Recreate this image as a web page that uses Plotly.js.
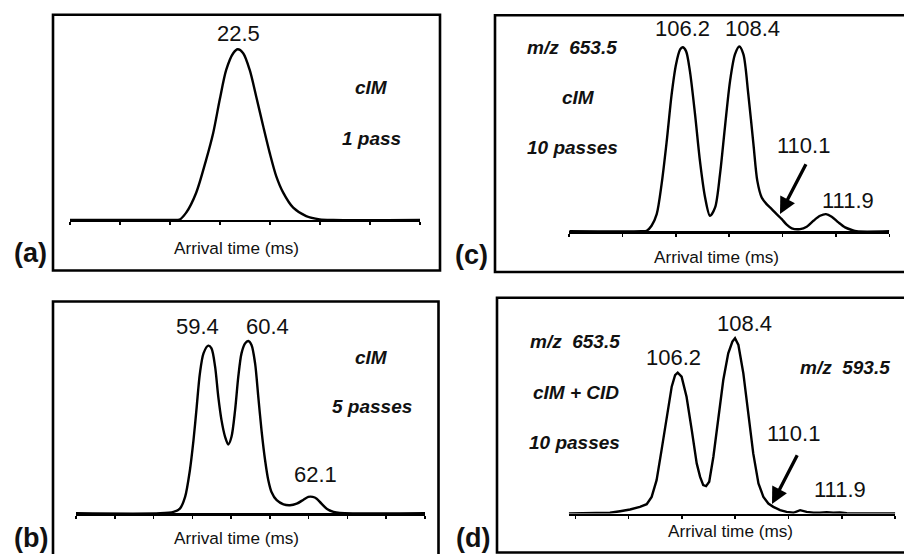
<!DOCTYPE html>
<html><head><meta charset="utf-8">
<script src="https://cdn.plot.ly/plotly-3.0.1.min.js"></script>
<style>html,body{margin:0;padding:0;background:#fff}#chart{width:904px;height:554px}</style>
</head><body><div id="chart"></div>
<script>
// ---- Data (arrival time in ms, relative intensity %) ----
const timeA = [19.146, 20.54, 21.14, 21.34, 21.47, 21.67, 21.87, 22.01, 22.14, 22.27, 22.41, 22.5, 22.61, 22.74, 22.87, 23.01, 23.14, 23.27, 23.41, 23.61, 23.87, 24.14, 24.41, 26.146];
const intensityA = [0, 0, 0, 0.3, 4.3, 16, 35.4, 51, 70.4, 87.9, 97.7, 100, 97.7, 87.9, 72.4, 54.9, 39.3, 25.7, 16, 7.2, 2.3, 0.4, 0, 0];

const timeB = [56.09, 58.2, 58.53, 58.69, 58.82, 58.94, 59.03, 59.11, 59.19, 59.28, 59.40, 59.48, 59.57, 59.65, 59.73, 59.82, 59.90, 59.98, 60.07, 60.15, 60.23, 60.32, 60.40, 60.48, 60.57, 60.65, 60.73, 60.82, 60.90, 60.98, 61.11, 61.28, 61.44, 61.61, 61.78, 61.90, 62.01, 62.11, 62.23, 62.36, 62.53, 62.69, 64.82];
const intensityB = [0, 0, 0.8, 2.7, 9.5, 25.0, 42.4, 61.8, 81.2, 92.8, 97.3, 95.7, 85.1, 67.6, 54.1, 44.4, 39.9, 44.4, 59.9, 79.3, 92.8, 98.6, 100, 97.7, 87.0, 67.6, 48.3, 30.8, 19.2, 12.4, 7.6, 5.2, 4.7, 5.6, 7.9, 9.5, 9.5, 8.5, 5.6, 2.7, 0.8, 0.2, 0];

const timeC = [101.79, 104.6, 104.80, 104.99, 105.19, 105.38, 105.58, 105.77, 105.94, 106.10, 106.20, 106.33, 106.48, 106.68, 106.87, 107.07, 107.26, 107.46, 107.65, 107.84, 108.04, 108.23, 108.40, 108.56, 108.75, 108.95, 109.10, 109.27, 109.46, 109.66, 109.85, 110.05, 110.24, 110.44, 110.76, 111.02, 111.28, 111.54, 111.77, 111.99, 112.25, 112.51, 112.77, 112.96, 114.23];
const intensityC = [0, 0, 0.3, 3.0, 9.3, 25.5, 48.9, 74.1, 90.3, 98.4, 99.6, 97.5, 86.7, 63.3, 38.1, 18.3, 8.4, 12.9, 30.9, 56.1, 81.3, 95.7, 100, 95.7, 74.1, 47.1, 27.3, 18.3, 14.7, 12.0, 9.3, 6.6, 3.6, 1.6, 1.2, 2.5, 5.7, 8.4, 9.3, 7.9, 4.8, 2.1, 0.7, 0, 0];

const timeD = [102.02, 103.22, 103.60, 103.99, 104.37, 104.75, 105.01, 105.20, 105.39, 105.58, 105.78, 105.97, 106.10, 106.20, 106.35, 106.54, 106.74, 106.93, 107.06, 107.18, 107.29, 107.41, 107.57, 107.76, 107.95, 108.14, 108.30, 108.40, 108.53, 108.72, 108.91, 109.10, 109.30, 109.49, 109.68, 109.87, 110.13, 110.38, 110.64, 110.90, 111.15, 111.41, 111.66, 111.92, 112.17, 112.43, 112.69, 113.07, 114.55];
const intensityD = [0, 0, 0.4, 1.3, 2.3, 3.8, 5.3, 9.5, 19.0, 36.2, 55.2, 72.4, 79.0, 80.4, 78.1, 66.6, 47.6, 28.6, 20.9, 16.2, 15.6, 18.1, 32.4, 55.2, 76.2, 91.4, 98.1, 100, 96.2, 80.0, 57.1, 34.3, 17.1, 9.5, 5.7, 3.8, 1.9, 0.9, 0.4, 1.9, 0.9, 0.4, 0.4, 0.7, 0.4, 0.6, 0.2, 0, 0];

// Text labels
const panelLetters = ['(a)', '(b)', '(c)', '(d)'];
const peakLabelsA = ['22.5'];
const peakLabelsB = ['59.4', '60.4', '62.1'];
const peakLabelsC = ['106.2', '108.4', '110.1', '111.9'];
const peakLabelsD = ['106.2', '108.4', '110.1', '111.9'];
const conditionA = ['cIM', '1 pass'];
const conditionB = ['cIM', '5 passes'];
const conditionC = ['m/z\u00a0\u00a0653.5', 'cIM', '10 passes'];
const conditionD = ['m/z\u00a0\u00a0653.5', 'cIM + CID', '10 passes', 'm/z\u00a0\u00a0593.5'];
const axisTitle = 'Arrival time (ms)';

// ---- Layout geometry (pixels) ----
const W = 904, H = 554;
const px = v => v / W;
const py = v => 1 - v / H;
const FONT = '"Liberation Sans", Arial, Helvetica, sans-serif';
const INK = '#111';

const panels = [
  {x: timeA, y: intensityA, ax: [70, 420], ay: 220, pk: 49.3, top: 20, range: [19.146, 26.146], dtick: 1, shape: 'spline'},
  {x: timeB, y: intensityB, ax: [76, 425], ay: 513.3, pk: 341, top: 310, range: [56.0925, 64.8175], dtick: 0.9694, shape: 'spline'},
  {x: timeC, y: intensityC, ax: [569.3, 889.3], ay: 231.3, pk: 46.5, top: 20, range: [101.793, 114.229], dtick: 2.0727, shape: 'spline'},
  {x: timeD, y: intensityD, ax: [568.7, 895.3], ay: 513.5, pk: 338.3, top: 305, range: [102.016, 114.553], dtick: 2.046, tick0: 102.27, shape: 'linear'}
];

const data = [];
const layout = {
  width: W, height: H,
  margin: {l: 0, r: 0, t: 0, b: 0},
  paper_bgcolor: '#fff', plot_bgcolor: 'rgba(0,0,0,0)',
  showlegend: false,
  font: {family: FONT, color: INK},
  shapes: [], annotations: []
};

panels.forEach((p, i) => {
  const n = i === 0 ? '' : String(i + 1);
  data.push({
    type: 'scatter', mode: 'lines', x: p.x, y: p.y,
    xaxis: 'x' + n, yaxis: 'y' + n,
    line: {color: '#000', width: 2.4, shape: p.shape, smoothing: 0.8},
    hoverinfo: 'skip'
  });
  layout['xaxis' + n] = {
    domain: [px(p.ax[0]), px(p.ax[1])], anchor: 'y' + n,
    range: p.range, tickmode: 'linear', tick0: p.tick0 !== undefined ? p.tick0 : p.range[0], dtick: p.dtick,
    ticks: 'outside', ticklen: 3, tickwidth: 1.6, tickcolor: '#000',
    showticklabels: false, showline: true, linewidth: 2.4, linecolor: '#000',
    showgrid: false, zeroline: false, fixedrange: true
  };
  layout['yaxis' + n] = {
    domain: [py(p.ay), py(p.top)], anchor: 'x' + n,
    range: [0, 100 * (p.ay - p.top) / (p.ay - p.pk)],
    visible: false, showgrid: false, zeroline: false, fixedrange: true
  };
});

// frames around each panel
const boxes = [[53, 14.7, 440, 270.5], [53, 301.5, 438.5, 560], [495, 15.3, 908, 272], [497, 297.7, 908, 552.5]];
boxes.forEach(b => layout.shapes.push({
  type: 'rect', xref: 'paper', yref: 'paper',
  x0: px(b[0]), x1: px(b[2]), y0: py(b[3]), y1: py(b[1]),
  line: {color: '#000', width: 2.6}, fillcolor: 'rgba(0,0,0,0)'
}));

function txt(t, x, y, size, bold, italic) {
  layout.annotations.push({
    text: bold ? '<b>' + (italic ? '<i>' + t + '</i>' : t) + '</b>' : t,
    xref: 'paper', yref: 'paper', x: px(x), y: py(y),
    xanchor: 'center', yanchor: 'middle', showarrow: false,
    font: {family: FONT, size: size, color: INK}
  });
}
function arrow(hx, hy, tx, ty) {
  layout.annotations.push({
    text: '', xref: 'paper', yref: 'paper', x: px(hx), y: py(hy),
    ax: tx - hx, ay: ty - hy, showarrow: true,
    arrowhead: 2, arrowsize: 1, arrowwidth: 3.3, arrowcolor: '#000', standoff: 0
  });
}

const NUM = 22, LAB = 19, AX = 17.2, LET = 27;
// (a)
txt(peakLabelsA[0], 238, 34, NUM);
txt(conditionA[0], 371, 87, LAB, true, true);
txt(conditionA[1], 371, 138, LAB, true, true);
txt(axisTitle, 236, 247.5, AX);
txt(panelLetters[0], 30, 252.5, LET, true);
// (b)
txt(peakLabelsB[0], 197.5, 326, NUM);
txt(peakLabelsB[1], 267, 326, NUM);
txt(peakLabelsB[2], 315, 474.5, NUM);
txt(conditionB[0], 371, 357, LAB, true, true);
txt(conditionB[1], 372, 406, LAB, true, true);
txt(axisTitle, 236, 537.7, AX);
txt(panelLetters[1], 31, 538, LET, true);
// (c)
txt(conditionC[0], 572, 47.5, LAB, true, true);
txt(conditionC[1], 578.5, 97, LAB, true, true);
txt(conditionC[2], 572, 147, LAB, true, true);
txt(peakLabelsC[0], 682, 29, NUM);
txt(peakLabelsC[1], 752, 29, NUM);
txt(peakLabelsC[2], 803.5, 146, NUM);
txt(peakLabelsC[3], 848, 200.7, NUM);
arrow(780, 214, 806.7, 162.7);
txt(axisTitle, 716, 257.4, AX);
txt(panelLetters[2], 471.5, 255, LET, true);
// (d)
txt(conditionD[0], 575, 341, LAB, true, true);
txt(conditionD[1], 575.5, 392, LAB, true, true);
txt(conditionD[2], 574.5, 442, LAB, true, true);
txt(conditionD[3], 844.5, 367, LAB, true, true);
txt(peakLabelsD[0], 673, 357, NUM);
txt(peakLabelsD[1], 744.5, 323.5, NUM);
txt(peakLabelsD[2], 793.5, 433.5, NUM);
txt(peakLabelsD[3], 839.5, 489.5, NUM);
arrow(772, 504, 798, 453.7);
txt(axisTitle, 730, 531, AX);
txt(panelLetters[3], 473, 538, LET, true);

Plotly.newPlot('chart', data, layout, {displayModeBar: false, staticPlot: true});
</script>
</body></html>
